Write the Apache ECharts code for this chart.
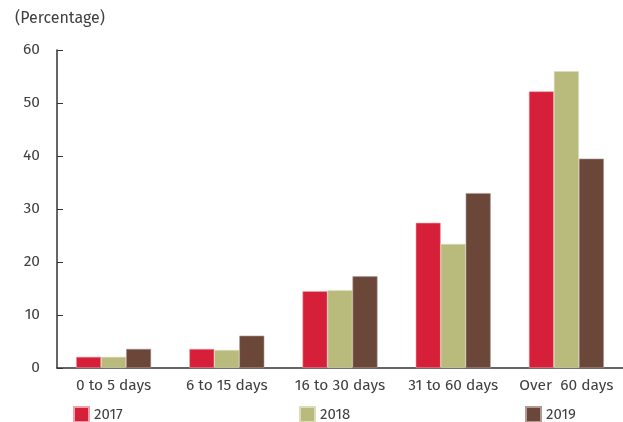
<!DOCTYPE html>
<html>
<head>
<meta charset="utf-8">
<script src="https://cdn.jsdelivr.net/npm/echarts@6/dist/echarts.min.js"></script>
<style>
  html, body { margin: 0; padding: 0; background: #fff; }
  #chart { width: 623px; height: 422px; }
</style>
</head>
<body>
<div id="chart"></div>
<script>
// categories and values (percent)
var categories = ["0 to 5 days", "6 to 15 days", "16 to 30 days", "31 to 60 days", "Over  60 days"];
var years = ["2017", "2018", "2019"];
var data2017 = [2.1, 3.6, 14.5, 27.4, 52.2];
var data2018 = [2.1, 3.4, 14.7, 23.4, 56.0];
var data2019 = [3.6, 6.1, 17.3, 33.0, 39.5];
var colors = ["#d61f38", "#b8bb7c", "#6b4739"];
var borders = ["#f0a0ab", "#dcdcb8", "#b09a92"];

var font = "'Fira Sans', 'Noto Sans', sans-serif";
var chart = echarts.init(document.getElementById("chart"));

function makeSeries(name, values, i) {
  return {
    name: name,
    type: "bar",
    data: values,
    barWidth: 25,
    barGap: "0%",
    itemStyle: { color: colors[i], borderColor: borders[i], borderWidth: 0.6 },
    emphasis: { disabled: true }
  };
}

var legendLefts = [68, 294, 520];

chart.setOption({
  animation: false,
  textStyle: { fontFamily: font },
  title: {
    text: "(Percentage)",
    left: 10,
    top: 6,
    textStyle: { fontSize: 16, fontWeight: "normal", color: "#404040", fontFamily: font }
  },
  legend: years.map(function (y, i) {
    return {
      data: [y],
      left: legendLefts[i],
      top: 401,
      itemWidth: 15,
      itemHeight: 15,
      icon: "rect",
      textStyle: { fontSize: 15, color: "#404040", fontFamily: font },
      selectedMode: false
    };
  }),
  grid: { left: 57, right: 0, top: 50, bottom: 54, containLabel: false },
  xAxis: {
    type: "category",
    data: categories,
    axisLine: { lineStyle: { color: "#333", width: 1.5 } },
    axisTick: { inside: true, length: 6, lineStyle: { color: "#333" } },
    axisLabel: { fontSize: 15.5, color: "#404040", margin: 10, interval: 0 }
  },
  yAxis: {
    type: "value",
    min: 0,
    max: 60,
    interval: 10,
    splitLine: { show: false },
    axisLine: { show: true, lineStyle: { color: "#333", width: 1.5 } },
    axisTick: { show: true, inside: true, length: 6, lineStyle: { color: "#333" } },
    axisLabel: { fontSize: 15.5, color: "#404040", margin: 17 }
  },
  series: [
    makeSeries(years[0], data2017, 0),
    makeSeries(years[1], data2018, 1),
    makeSeries(years[2], data2019, 2)
  ]
});
</script>
</body>
</html>
